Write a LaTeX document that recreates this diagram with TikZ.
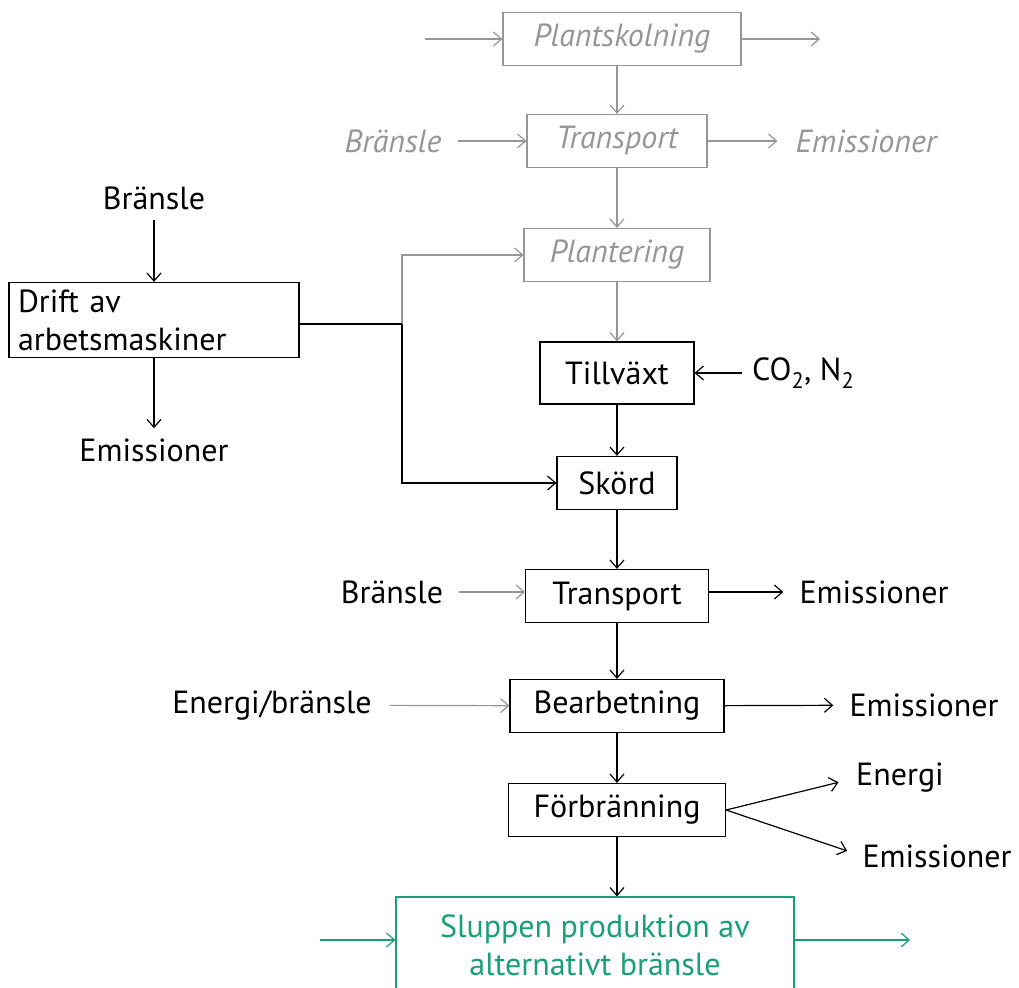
\documentclass[tikz,border=0pt]{standalone}
\usepackage{fontspec}
\setmainfont{PT Sans}
\usetikzlibrary{arrows.meta, positioning, calc}
\definecolor{fadegray}{RGB}{150,150,150}
\definecolor{slupgreen}{RGB}{25,160,120}

\begin{document}
\begin{tikzpicture}[x=1pt, y=-1pt,
        >={Straight Barb[length=8pt, width=14pt]},
        box/.style={rectangle, draw, line width=1.2pt, minimum height=53pt, inner sep=0pt, font=\fontsize{32}{38}\selectfont},
        oldbox/.style={box, draw=fadegray, text=fadegray, font=\fontsize{32}{38}\selectfont\itshape},
        greenbox/.style={box, draw=slupgreen, text=slupgreen, align=center},
        lbl/.style={inner sep=0pt, font=\fontsize{32}{38}\selectfont},
        oldlbl/.style={lbl, text=fadegray, font=\fontsize{32}{38}\selectfont\itshape},
        flow/.style={->, line width=1.2pt},
        oldflow/.style={flow, draw=fadegray},
        greenflow/.style={flow, draw=slupgreen}
    ]
        \useasboundingbox (0,0) rectangle (1019,987);

        % old chain (grey)
        \node[oldbox, minimum width=238pt] (plantskolning) at (622,39) {Plantskolning};
        \node[oldbox, minimum width=180pt] (transportA) at (617,141) {Transport};
        \node[oldbox, minimum width=186pt] (plantering) at (617,255) {Plantering};
        \node[oldlbl] (branslA) at (393,141) {Bränsle};
        \node[oldlbl] (emisA) at (866,141) {Emissioner};
        \coordinate (inA) at (425,39);
        \coordinate (outA) at (820,39);

        % main chain
        \node[box, minimum width=154pt, minimum height=62pt] (tillvaxt) at (617,373) {Tillväxt};
        \node[box, minimum width=120pt] (skord) at (617,483) {Skörd};
        \node[box, minimum width=183pt] (transportB) at (617,596) {Transport};
        \node[box, minimum width=214pt] (bearbetning) at (617,706) {Bearbetning};
        \node[box, minimum width=217pt] (forbranning) at (617,810) {Förbränning};
        \node[greenbox, minimum width=398pt, minimum height=96pt] (sluppen) at (595,945) {Sluppen produktion av\\alternativt bränsle};
        \coordinate (inG) at (320,940);
        \coordinate (outG) at (910,940);

        % work machines
        \node[box, minimum width=290pt, minimum height=75pt, text width=272pt, align=left] (drift) at (154,320) {Drift av\\arbetsmaskiner};
        \node[lbl] (branslD) at (154,198) {Bränsle};
        \node[lbl] (emisD) at (154,450) {Emissioner};
        \coordinate (split) at (402,324);

        % side labels
        \node[lbl, anchor=west] (gas) at (752,373) {CO\textsubscript{2}, N\textsubscript{2}};
        \node[lbl] (branslB) at (392,592) {Bränsle};
        \node[lbl] (emisB) at (874,592) {Emissioner};
        \node[lbl] (energiIn) at (272,705) {Energi/bränsle};
        \node[lbl] (emisC) at (924,705) {Emissioner};
        \node[lbl] (energiOut) at (900,778) {Energi};
        \node[lbl] (emisE) at (937,856) {Emissioner};

        % connectors, grey
        \draw[oldflow] (inA) -- (plantskolning);
        \draw[oldflow] (plantskolning) -- (outA);
        \draw[oldflow] (plantskolning.south -| transportA) -- (transportA);
        \draw[oldflow, shorten <=16pt] (branslA) -- (transportA);
        \draw[oldflow, shorten >=18pt] (transportA) -- (emisA);
        \draw[oldflow] (transportA) -- (plantering);
        \draw[oldflow] (plantering) -- (tillvaxt);
        \draw[oldflow] (split) |- (plantering);
        \draw[oldflow, shorten <=16pt] (branslB) -- (transportB.west |- branslB);
        \draw[oldflow, shorten <=18pt] (energiIn) -- (bearbetning);

        % connectors, black
        \draw[line width=1.2pt] (drift.east |- split) -- (split);
        \draw[flow] (split) |- (skord);
        \draw[flow, shorten <=10pt] (branslD) -- (drift);
        \draw[flow, shorten >=10pt] (drift) -- (emisD);
        \draw[flow, shorten <=10pt] (gas) -- (tillvaxt);
        \draw[flow] (tillvaxt) -- (skord);
        \draw[flow] (skord) -- (transportB);
        \draw[flow, shorten >=16pt] (transportB.east |- emisB) -- (emisB);
        \draw[flow] (transportB) -- (bearbetning);
        \draw[flow, shorten >=16pt] (bearbetning) -- (emisC);
        \draw[flow] (bearbetning) -- (forbranning);
        \draw[flow, shorten >=18pt] (forbranning.east) -- (energiOut.west);
        \draw[flow, shorten >=16pt] (forbranning.east) -- (emisE.west);
        \draw[flow] (forbranning) -- (forbranning |- sluppen.north);

        % connectors, green
        \draw[greenflow] (inG) -- (sluppen.west |- inG);
        \draw[greenflow] (sluppen.east |- outG) -- (outG);
    \end{tikzpicture}
\end{document}
